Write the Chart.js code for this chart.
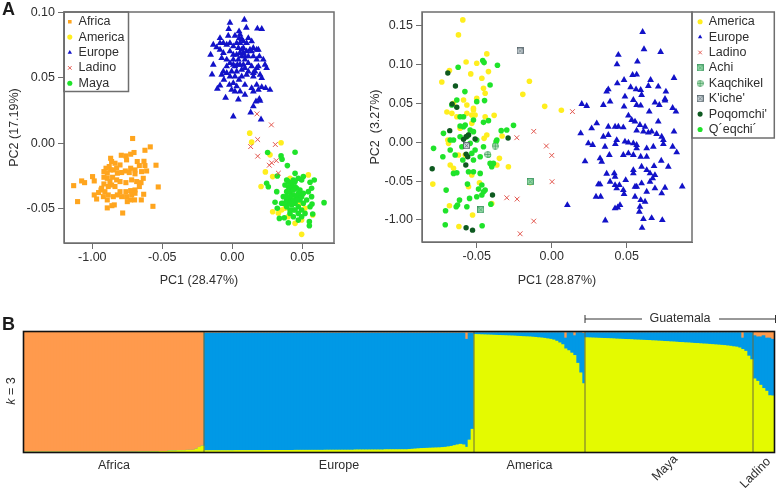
<!DOCTYPE html>
<html>
<head>
<meta charset="utf-8">
<style>
html,body{margin:0;padding:0;background:#fff;width:778px;height:490px;overflow:hidden}
canvas{position:absolute;display:block}
#a1{left:0;top:0}
#a2{left:360px;top:0}
#b{left:0;top:305px}
</style>
<script src="https://cdn.jsdelivr.net/npm/chart.js@4"></script>
</head>
<body>
<canvas id="a1" width="350" height="300"></canvas>
<canvas id="a2" width="418" height="300"></canvas>
<canvas id="b" width="778" height="185"></canvas>
<script>
// ---------- Panel A, left ----------
const leftTicksX = [-0.10, -0.05, 0, 0.05];
const leftTickLabelsX = ["-1.00", "-0.05", "0.00", "0.05"];
const leftTicksY = [-0.05, 0, 0.05, 0.10];
const leftTickLabelsY = ["-0.05", "0.00", "0.05", "0.10"];

const africaX = [-.0712,-.0586,-.0624,-.0545,-.0529,-.0567,-.065,-.0633,-.0783,-.0893,-.1105,-.1133,-.1076,-.1055,-.0998,-.0986,-.0938,-.0955,-.0986,-.0969,-.0869,-.0793,-.076,-.0726,-.0702,-.0755,-.0679,-.0631,-.0624,-.0664,-.0612,-.0648,-.0695,-.0726,-.0764,-.0802,-.0838,-.0862,-.0879,-.0902,-.0917,-.0893,-.085,-.0821,-.079,-.0736,-.0695,-.0636,-.0652,-.0664,-.0695,-.0726,-.076,-.0802,-.0838,-.0862,-.0886,-.0917,-.0933,-.091,-.0886,-.085,-.0821,-.079,-.0755,-.0719,-.0695,-.075,-.0726,-.0698,-.086,-.0843,-.0893,-.0921,-.0826,-.0855,-.0893,-.0917,-.0874,-.0802,-.076,-.0719,-.0683,-.0869,-.0826];
const africaY = [.0036,-.0028,-.0054,-.0168,-.0334,-.0482,-.0433,-.039,-.0533,-.0494,-.0446,-.0324,-.0288,-.0301,-.0255,-.0288,-.0357,-.0377,-.0395,-.0426,-.0115,-.0092,-.0097,-.0084,-.0071,-.0127,-.014,-.0138,-.0171,-.0171,-.0212,-.0217,-.0204,-.0191,-.0212,-.0166,-.0153,-.014,-.0178,-.0191,-.0217,-.0229,-.0204,-.0229,-.0224,-.0224,-.0234,-.0268,-.0301,-.0331,-.0357,-.0362,-.037,-.037,-.0331,-.0319,-.0331,-.0311,-.0344,-.037,-.0395,-.0408,-.0395,-.0408,-.0408,-.0395,-.0382,-.0446,-.0433,-.0433,-.0477,-.0471,-.0433,-.0408,-.028,-.026,-.0268,-.026,-.0293,-.0293,-.0301,-.028,-.0293,-.0204,-.0191];

const americaAX = [.0124,.0138,.0348,.0269,.0236,.0205,.0288,.0495,.0288,.0352,.0398,.0574,.0448,.0543,.0412,.0376,.0483,.0519,.0412,.0436,.0329,.0495];
const americaAY = [.0077,.0008,.0003,-.0089,-.0219,-.0331,-.0255,-.0696,-.0523,-.051,-.0561,-.0548,-.0612,-.0242,-.0268,-.0497,-.0459,-.0497,-.0331,-.0433,-.0535,-.0586];

const europeAX = [.0086,-.0017,.01,.0179,.021,-.0026,.0048,-.0088,-.0136,-.0112,-.0155,-.0136,-.0145,-.0076,.0007,.0131,.0205,.015,.0169,.0198,.0193,.0043,-.0048,-.0107,-.0088,-.006,-.0021,.0007,.0048,.009,.0138,.0174,.021,.0238,.0269,.0245,.0233,.0221,.0193,.0174,.0138,.0114,.0067,.0019,-.0029,-.0064,-.0088,-.0088,-.0076,-.004,-.004,-.0005,.0019,.0043,.0067,.009,.0114,.0138,.0174,.021,.015,.0102,.0067,.0019,-.0017,.0007,.0031,.0055,.0079,.0102,.0126,.015,.0031,.0055,.0079,.0102,.0007,-.0017,.0043,.0079,-.004,.0055,.0079,.009,.0114,.015,.0174,.0186,.0031,-.0017,-.0064,-.004,.0067,.0031,.0055,.009,.015,.0186,.0019,-.0005,.0186,-.0017,.0007,.0067,.009,.015,.0036,.0007,.0114,.0055,.005,.0138,.0162,.0198,-.0064];
const europeAY = [.0943,.092,.0882,.0875,.0872,.0872,.0854,.0803,.0752,.0732,.0676,.0599,.0525,.0523,.0204,.0235,.0181,.0281,.0319,.0324,.0339,.0334,.0347,.0416,.0441,.0485,.0446,.0459,.0485,.0446,.0421,.0446,.0428,.0421,.0408,.0574,.0599,.0638,.0663,.0714,.0778,.0803,.0796,.0821,.0821,.0765,.0765,.0714,.065,.0638,.0587,.0548,.0587,.0638,.0663,.0638,.0612,.0587,.0574,.0497,.051,.0523,.051,.051,.051,.0676,.0676,.0689,.0689,.0701,.0714,.0727,.0765,.0765,.0778,.0765,.074,.0765,.0727,.0727,.0752,.0599,.0599,.0574,.0548,.0536,.0638,.0587,.0548,.0612,.0548,.0536,.0561,.0434,.0395,.037,.0395,.0408,.0395,.0408,.0714,.0701,.0638,.0714,.0663,.0663,.0599,.0599,.0663,.0829,.0803,.0701,.0548,.0523,.0689];

const ladinoAX = [.0176,.0279,.0181,.0307,.0131,.0181,.0314,.0281,.0264,.0329];
const ladinoAY = [.0224,.014,.0028,-.001,-.0026,-.0099,-.0133,-.015,-.0168,-.0229];

const mayaX = [.0252,.0348,.0355,.0448,.0393,.0321,.0448,.0388,.0245,.0257,.0317,.0305,.0321,.0336,.0371,.04,.0436,.055,.055,.0655,.0569,.0574,.0555,.0519,.0495,.0471,.0436,.0412,.0388,.0352,.0364,.0388,.0376,.04,.0436,.0471,.0507,.0555,.0585,.0566,.0543,.0507,.0483,.0459,.0424,.0412,.0436,.0459,.0483,.0507,.0531,.0566,.0412,.0388,.0448,.0471,.0495,.0424,.0448,.0471,.0412,.0388,.0424,.0448,.0471,.0495,.04,.0436,.0364,.0388,.0436,.0412,.0495,.0448,.0412,.0464];
const mayaY = [-.0071,-.0097,-.0122,-.0069,-.0171,-.025,-.023,-.0281,-.0306,-.0332,-.037,-.0451,-.0497,-.0574,-.0569,-.0607,-.0561,-.0599,-.063,-.0454,-.0464,-.0541,-.0485,-.0536,-.0561,-.0587,-.051,-.0536,-.0485,-.0459,-.0408,-.037,-.0319,-.0293,-.0281,-.0268,-.0255,-.0298,-.0281,-.0344,-.037,-.0383,-.0357,-.0344,-.0332,-.037,-.0395,-.0408,-.0434,-.0459,-.0434,-.0408,-.0434,-.0434,-.0459,-.0485,-.051,-.0472,-.051,-.0536,-.0408,-.0408,-.0306,-.0332,-.0383,-.0408,-.0332,-.0357,-.0459,-.0459,-.0434,-.051,-.0281,-.0293,-.0459,-.0434];

// ---------- Panel A, right ----------
const rightTicksX = [-0.05, 0, 0.05];
const rightTickLabelsX = ["-0.05", "0.00", "0.05"];
const rightTicksY = [-0.10, -0.05, 0, 0.05, 0.10, 0.15];
const rightTickLabelsY = ["-1.00", "-0.05", "0.00", "0.05", "0.10", "0.15"];

const americaBX = [-.0593,-.0622,-.0682,-.0733,-.0699,-.0571,-.05,-.0433,-.0466,-.0422,-.054,-.0149,-.0193,-.0047,.0064,-.0384,-.0444,-.0522,-.0533,-.0666,-.0633,-.0566,-.0511,-.0433,-.0451,-.0331,-.0289,-.0349,-.0688,-.0622,-.0677,-.0655,-.0793,-.0682,-.0619,-.0528,-.04,-.0482,-.0555,-.0144,-.0693,-.0611,-.0533,-.0444,-.0455,-.05,-.0655,-.0588,-.0566,-.0522,-.0577,-.0366,-.0533];
const americaBY = [.1578,.1385,.0925,.0778,.0391,.1036,.1019,.114,.0826,.0912,.0882,.0787,.0619,.0464,.0413,.0348,.0331,.0439,.0353,.0374,.0331,.0374,.0353,.0095,.0052,.0082,-.0314,-.0206,-.0013,-.0163,-.0292,-.0335,-.0538,-.0817,-.1084,-.0937,-.0787,-.052,-.0572,-.052,.003,.0181,.0245,.0632,.0697,.0568,.0503,.0546,.0482,.0417,-.0163,-.0292,-.0421];

const europeBX = [.0606,.0615,.0726,.0444,.0435,.0571,.0815,.0566,.0539,.0659,.071,.0761,.0755,.0755,.0806,.0828,.0482,.0437,.0377,.0366,.0526,.0562,.0593,.0644,.0599,.0488,.0389,.0344,.0544,.0566,.0593,.0688,.0717,.0482,.02,.0233,.065,.071,.0511,.0533,.0555,.0588,.03,.0266,.0193,.0377,.0422,.0444,.0477,.0622,.0566,.0611,.0644,.0666,.0699,.0815,.0733,.0744,.0744,.0806,.0833,.0244,.0273,.0344,.0377,.0433,.0488,.0511,.0544,.0566,.0566,.0677,.0633,.0424,.0355,.0322,.0333,.0222,.0477,.0511,.0544,.0384,.0593,.0633,.073,.0777,.0682,.0599,.0544,.0633,.0655,.0544,.0366,.0417,.0422,.0688,.0673,.0655,.0599,.0566,.0493,.0451,.0422,.0389,.0311,.0322,.0295,.0326,.0433,.0482,.0555,.0633,.0688,.0733,.0755,.087,.0593,.0622,.0588,.0584,.0104,.0455,.044,.0422,.0357,.0611,.0666,.0737,.0602,.0477,.0555];
const europeBY = [.1423,.12,.1165,.1127,.1006,.1041,.083,.0873,.0869,.0804,.0718,.0654,.0559,.0538,.0443,.0396,.0804,.0761,.0684,.0654,.071,.0684,.0675,.0727,.0611,.0589,.0525,.0482,.0546,.0482,.0473,.0512,.0482,.046,.0495,.0469,.0396,.0267,.0344,.0288,.0267,.0224,.0245,.0181,.0116,.0202,.0202,.0202,.0194,.0202,.0151,.0138,.0125,.0138,.0108,.0138,.0073,.003,-.0022,-.0056,-.0129,-.0013,-.0034,.0073,.0095,.003,.0009,-.0004,-.0013,-.0034,-.0077,-.0056,-.0077,-.0022,-.0056,-.0206,-.0249,-.0245,-.0163,-.0142,-.0163,-.0163,-.0185,-.0185,-.0237,-.0314,-.0305,-.0314,-.0357,-.0357,-.04,-.04,-.0404,-.04,-.0443,-.0421,-.0464,-.0507,-.0529,-.0572,-.0486,-.055,-.055,-.0507,-.0542,-.0542,-.0701,-.0701,-.0593,-.0667,-.0572,-.0636,-.0593,-.0658,-.0585,-.0568,-.0744,-.0765,-.083,-.0894,-.0808,-.0808,-.0839,-.0851,-.1006,-.0989,-.0976,-.1002,-.1101,-.0615,-.0701];

const ladinoBX = [.0138,-.012,-.0233,-.0036,0,.0002,-.03,-.0231,-.012,-.0211];
const ladinoBY = [.0396,.0142,.006,-.0047,-.0168,-.0507,-.0714,-.0731,-.1015,-.1178];

const achiX = [-.0144,-.0473];
const achiY = [-.0507,-.0869];
const kaqchikelX = [-.0426,-.0377];
const kaqchikelY = [-.0155,-.0047];
const kicheX = [-.0211,-.0568];
const kicheY = [.1178,-.0043];

const poqomchiX = [-.0693,-.0642,-.0664,-.0633,-.068,-.0588,-.0555,-.0571,-.0511,-.0291,-.0571,-.056,-.0573,-.0797,-.0395,-.0571,-.0528];
const poqomchiY = [.0894,.0727,.0495,.0452,.0151,.0039,.0095,.0073,.0043,.0056,-.0151,-.0185,-.0292,-.034,-.0679,-.1101,-.1131];

const qeqchiX = [-.046,-.0451,-.0362,-.0624,-.0411,-.0579,-.05,-.0448,-.0633,-.0666,-.0588,-.0522,-.0455,-.0422,-.0337,-.03,-.0255,-.0371,-.0377,-.0722,-.0726,-.0788,-.0677,-.0655,-.0611,-.0588,-.0544,-.0555,-.05,-.0455,-.0422,-.0389,-.04,-.0533,-.0522,-.0555,-.0477,-.0522,-.0562,-.0488,-.0444,-.0466,-.0548,-.0615,-.0628,-.0637,-.0704,-.0708,-.071,-.0464,-.0406,-.0566,-.0455,-.0655,-.0633,-.0599,-.0544,-.0511,-.0566,-.0611,-.0677,-.0644,-.0593,-.0477,-.0411,-.0366,-.0466,-.05,-.0611,-.0577,-.0522];
const qeqchiY = [.1054,.1028,.0993,.0968,.074,.0654,.0525,.0538,.0546,.0482,.0331,.0288,.0258,.028,.0151,.0159,.0219,.0009,-.0034,.0116,-.0185,-.0077,-.0099,.003,.0211,.0202,.0159,.0095,.003,-.0056,-.0163,-.0271,-.0314,-.0142,-.0228,-.0378,-.04,-.0378,-.0538,-.0602,-.0615,-.0679,-.0722,-.0744,-.0808,-.083,-.0615,-.0882,-.1062,-.1075,-.0796,-.083,-.0636,-.04,-.0391,-.0056,-.0013,-.0099,.0073,.0073,.003,-.0163,-.0228,-.0185,-.0271,.003,-.055,-.0701,.0331,.0224,.0138];

// ---------- Panel B: share of each ancestry per individual, group by group ----------
const yellowAfrica = [0,0,0,0,0,0,0,0,0,0,0,0,0,0,0,0,0,0,0,0,0,0,0,0,0,0,0,0,0,0,0,0,0,0,0,0,0,0,.2,.2,.2,.2,.3,.3,.3,.5,.5,.5,1,1,1,1.2,1.2,1.2,1.5,1.5,1.5,2.5,4,5];
const blueAfrica = [0,0,0,0,0,0,0,0,0,0,0,0,0,0,0,0,0,0,0,0,0,0,0,0,0,0,0,0,0,0,0,0,0,0,0,0,0,0,0,0,0,0,0,0,0,0,0,0,0,0,0,0,0,0,0,0,0,0,0,0];
const orangeAfrica = [100,100,100,100,100,100,100,100,100,100,100,100,100,100,100,100,100,100,100,100,100,100,100,100,100,100,100,100,100,100,100,100,100,100,100,100,100,100,99.8,99.8,99.8,99.8,99.7,99.7,99.7,99.5,99.5,99.5,99,99,99,98.8,98.8,98.8,98.5,98.5,98.5,97.5,96,95];

const yellowEurope = [1.2,1.2,1.2,1.2,1.2,1.2,1.2,1.2,1.2,1.2,1.3,1.3,1.3,1.3,1.3,1.3,1.3,1.3,1.3,1.3,1.4,1.4,1.4,1.4,1.4,1.4,1.4,1.4,1.4,1.4,1.5,1.5,1.5,1.5,1.5,1.5,1.5,1.5,1.5,1.5,1.6,1.6,1.6,1.6,1.6,1.6,1.6,1.6,1.6,1.6,1.8,1.8,1.8,1.8,1.8,1.8,1.8,1.8,1.8,1.8,2,2,2,2,2,2,2,2,2.2,2.4,2.6,2.8,3,3.1,3.2,3.3,3.4,3.5,3.6,3.8,4,4.4,4.8,5.4,6,6.5,6,4,10,19];
const blueEurope = [98,98,98,98,98,98,98,98,98,98,97.9,97.9,97.9,97.9,97.9,97.9,97.9,97.9,97.9,97.9,97.8,97.8,97.8,97.8,97.8,97.8,97.8,97.8,97.8,97.8,97.7,97.7,97.7,97.7,97.7,97.7,97.7,97.7,97.7,97.7,97.6,97.6,97.6,97.6,97.6,97.6,97.6,97.6,97.6,97.6,97.4,97.4,97.4,97.4,97.4,97.4,97.4,97.4,97.4,97.4,97.2,97.2,97.2,97.2,97.2,97.2,97.2,97.2,97,96.8,96.6,96.4,96.2,96.1,96,95.9,95.8,95.7,95.6,95.4,95.2,94.8,94.4,93.8,93.2,92.7,93.2,90,89.2,80.2];
const orangeEurope = [.8,.8,.8,.8,.8,.8,.8,.8,.8,.8,.8,.8,.8,.8,.8,.8,.8,.8,.8,.8,.8,.8,.8,.8,.8,.8,.8,.8,.8,.8,.8,.8,.8,.8,.8,.8,.8,.8,.8,.8,.8,.8,.8,.8,.8,.8,.8,.8,.8,.8,.8,.8,.8,.8,.8,.8,.8,.8,.8,.8,.8,.8,.8,.8,.8,.8,.8,.8,.8,.8,.8,.8,.8,.8,.8,.8,.8,.8,.8,.8,.8,.8,.8,.8,.8,.8,.8,6,.8,.8];

const yellowAmerica = [98,97.9,97.8,97.7,97.6,97.5,97.4,97.3,97.2,97.1,97,96.9,96.8,96.7,96.5,96.4,96.2,96.1,96,95.8,95.6,95.3,95.1,94.8,94.4,94,93.4,92.4,91,89.5,86,84.5,82.5,80.5,74,66,57];
const blueAmerica = [1.5,1.6,1.7,1.8,1.9,2,2.1,2.2,2.3,2.4,2.5,2.6,2.7,2.8,3,3.1,3.3,3.4,3.5,3.7,3.9,4.2,4.4,4.7,5.1,5.5,6.1,7.1,8.5,10,9,15,17,16.5,25.5,33.5,42];
const orangeAmerica = [.5,.5,.5,.5,.5,.5,.5,.5,.5,.5,.5,.5,.5,.5,.5,.5,.5,.5,.5,.5,.5,.5,.5,.5,.5,.5,.5,.5,.5,.5,5,.5,.5,3,.5,.5,1];

const yellowMaya = [95.3,95.2,95.1,95,94.9,94.8,94.7,94.6,94.5,94.4,94.2,94.1,94,93.9,93.8,93.7,93.5,93.4,93.3,93.2,93.1,93,92.8,92.7,92.5,92.4,92.2,92.1,91.9,91.8,91.6,91.4,91.3,91.1,91,90.8,90.6,90.5,90.3,90.1,90,89.8,89.6,89.4,89.2,89,88.8,88.5,88.2,87.8,87.5,86.8,85.5,84,80,77];
const blueMaya = [4.2,4.3,4.4,4.5,4.6,4.7,4.8,4.9,5,5.1,5.3,5.4,5.5,5.6,5.7,5.8,6,6.1,6.2,6.3,6.4,6.5,6.7,6.8,7,7.1,7.3,7.4,7.6,7.7,7.9,8.1,8.2,8.4,8.5,8.7,8.9,9,9.2,9.4,9.5,9.7,9.9,10.1,10.3,10.5,10.7,11,11.3,11.7,12,12.7,9.5,15.5,19.5,22.5];
const orangeMaya = [.5,.5,.5,.5,.5,.5,.5,.5,.5,.5,.5,.5,.5,.5,.5,.5,.5,.5,.5,.5,.5,.5,.5,.5,.5,.5,.5,.5,.5,.5,.5,.5,.5,.5,.5,.5,.5,.5,.5,.5,.5,.5,.5,.5,.5,.5,.5,.5,.5,.5,.5,.5,5,.5,.5,.5];

const yellowLadino = [61,59,55.7,53,50.7,47,46.8];
const blueLadino = [36,37,40.3,44,44.3,48,47.2];
const orangeLadino = [3,4,4,3,5,5,6];

const groupNames = ["Africa", "Europe", "America", "Maya", "Ladino"];
const yellowShare = [...yellowAfrica, ...yellowEurope, ...yellowAmerica, ...yellowMaya, ...yellowLadino];
const blueShare = [...blueAfrica, ...blueEurope, ...blueAmerica, ...blueMaya, ...blueLadino];
const orangeShare = [...orangeAfrica, ...orangeEurope, ...orangeAmerica, ...orangeMaya, ...orangeLadino];
const groupSizes = [yellowAfrica.length, yellowEurope.length, yellowAmerica.length, yellowMaya.length, yellowLadino.length];

// ---------- styling ----------
const FONT = "'Liberation Sans', Arial, sans-serif";
const TXT = "#2e2e2e";
const FRAME = "#6e6e6e";
const C = {orange:"#FFA51E", yellow:"#FFEE1E", blue:"#1212C8", red:"#E2574F", green:"#1FE32A", dark:"#0E5A20"};
Chart.defaults.font.family = FONT;
Chart.defaults.font.size = 12.5;
Chart.defaults.color = TXT;
Chart.defaults.animation = false;

function sprite(shape, fill, line) {
  const c = document.createElement("canvas");
  c.width = 7; c.height = 7;
  const g = c.getContext("2d");
  g.fillStyle = fill; g.strokeStyle = line; g.lineWidth = 0.8;
  if (shape === "squareX") {
    g.fillRect(.5,.5,6,6); g.strokeRect(.5,.5,6,6);
    g.beginPath(); g.moveTo(1.5,1.5); g.lineTo(5.5,5.5); g.moveTo(5.5,1.5); g.lineTo(1.5,5.5); g.stroke();
  } else {
    g.beginPath(); g.arc(3.5,3.5,3,0,Math.PI*2); g.fill(); g.stroke();
    g.beginPath(); g.moveTo(3.5,.5); g.lineTo(3.5,6.5); g.moveTo(.5,3.5); g.lineTo(6.5,3.5); g.stroke();
  }
  return c;
}
const achiMark = sprite("squareX", "#9fe0b0", "#2f8f55");
const kaqMark = sprite("circlePlus", "#c4ecc9", "#3f9a5a");
const kicheMark = sprite("squareX", "#d3dbe0", "#4a5a60");

function pts(xs, ys) { return xs.map((x, i) => ({x, y: ys[i]})); }
function set(label, xs, ys, style, color, radius, order, extra) {
  return Object.assign({
    label, data: pts(xs, ys), pointStyle: style, pointRadius: radius, pointHoverRadius: radius,
    backgroundColor: color, borderColor: color, borderWidth: 0, showLine: false, order
  }, extra || {});
}

const panelPlugin = {
  id: "panel",
  afterLayout(chart) {
    const o = chart.options.plugins.panel;
    if (!o.legendAt) return;
    const L = chart.legend;
    L.left = o.legendAt[0]; L.top = o.legendAt[1];
    L.right = L.left + 100; L.bottom = L.top + 250;
  },
  afterDraw(chart) {
    const o = chart.options.plugins.panel, g = chart.ctx, a = chart.chartArea;
    g.save();
    g.strokeStyle = FRAME; g.lineWidth = 1.5;
    g.strokeRect(a.left, a.top, a.right - a.left, a.bottom - a.top);
    if (o.legendBox) { g.strokeRect(...o.legendBox); }
    if (o.letter) {
      g.fillStyle = "#1c1c1c"; g.font = "bold 18px " + FONT;
      g.textAlign = "left"; g.textBaseline = "middle";
      g.fillText(o.letter, 2, 10);
    }
    g.restore();
  }
};

function scatterChart(id, cfg) {
  const axis = (ticks, labels, min, max, title, fit) => ({
    type: "linear", min, max,
    afterBuildTicks: s => { s.ticks = ticks.map(v => ({value: v})); },
    afterFit: fit,
    grid: {drawOnChartArea: false, drawTicks: true, tickLength: 6, color: FRAME, lineWidth: 1},
    border: {color: FRAME, width: 1},
    title: {display: true, text: title.text, color: TXT, font: {size: 12.5}, padding: title.padding},
    ticks: {
      autoSkip: false, maxRotation: 0, color: TXT, font: {size: 12.5}, padding: title.tick,
      callback: (v) => { const i = ticks.findIndex(t => Math.abs(t - v) < 1e-9); return labels[i]; }
    }
  });
  return new Chart(document.getElementById(id), {
    type: "scatter",
    data: {datasets: cfg.datasets},
    plugins: [panelPlugin],
    options: {
      responsive: false,
      layout: {autoPadding: false, padding: cfg.padding},
      scales: {
        x: axis(cfg.tx, cfg.lx, cfg.xr[0], cfg.xr[1], cfg.xTitle, s => { s.height = cfg.h - cfg.bottomEdge; }),
        y: axis(cfg.ty, cfg.ly, cfg.yr[0], cfg.yr[1], cfg.yTitle, s => { s.width = cfg.padding.y; })
      },
      plugins: {
        legend: {
          display: true, position: "chartArea", align: "start",
          labels: {usePointStyle: true, boxWidth: 5, boxHeight: 3.6, padding: 2.9, color: TXT, font: {size: 12.5},
                   sort: (a, b) => a.datasetIndex - b.datasetIndex}
        },
        tooltip: {enabled: false},
        panel: {legendAt: cfg.legendAt, legendBox: cfg.legendBox, letter: cfg.letter}
      }
    }
  });
}

scatterChart("a1", {
  h: 300, bottomEdge: 243, letter: "A",
  padding: {left: 0, right: 16, top: 12, bottom: 0, y: 64},
  tx: leftTicksX, lx: leftTickLabelsX, ty: leftTicksY, ly: leftTickLabelsY,
  xr: [-.1202, .0726], yr: [-.0762, .1002],
  xTitle: {text: "PC1 (28.47%)", padding: {top: 0, bottom: 12}, tick: 1},
  yTitle: {text: "PC2 (17.19%)", padding: {top: 7, bottom: 0}, tick: 3},
  legendAt: [64.4, 12.55], legendBox: [64, 12, 64.5, 79.5],
  datasets: [
    set("Africa", africaX, africaY, "rect", C.orange, 3.6, 5),
    set("America", americaAX, americaAY, "circle", C.yellow, 2.8, 4),
    set("Europe", europeAX, europeAY, "triangle", C.blue, 3.9, 3),
    set("Ladino", ladinoAX, ladinoAY, "crossRot", C.red, 3.4, 1, {borderWidth: 1}),
    set("Maya", mayaX, mayaY, "circle", C.green, 2.8, 2)
  ]
});

scatterChart("a2", {
  h: 300, bottomEdge: 242,
  padding: {left: 0, right: 86, top: 12, bottom: 0, y: 62},
  tx: rightTicksX, lx: rightTickLabelsX, ty: rightTicksY, ly: rightTickLabelsY,
  xr: [-.0865, .0935], yr: [-.1284, .168],
  xTitle: {text: "PC1 (28.87%)", padding: {top: 0, bottom: 12}, tick: 1},
  yTitle: {text: "PC2  (3.27%)", padding: {top: 8, bottom: 0}, tick: 3},
  legendAt: [334.7, 12.55], legendBox: [332, 12, 82.3, 126],
  datasets: [
    set("America", americaBX, americaBY, "circle", C.yellow, 2.8, 8),
    set("Europe", europeBX, europeBY, "triangle", C.blue, 3.9, 7),
    set("Ladino", ladinoBX, ladinoBY, "crossRot", C.red, 3.4, 1, {borderWidth: 1}),
    set("Achi", achiX, achiY, achiMark, "#9fe0b0", 3, 2),
    set("Kaqchikel", kaqchikelX, kaqchikelY, kaqMark, "#c4ecc9", 3, 3),
    set("K'iche'", kicheX, kicheY, kicheMark, "#d3dbe0", 3, 4),
    set("Poqomchi'", poqomchiX, poqomchiY, "circle", C.dark, 2.7, 5),
    set("Q´eqchi´", qeqchiX, qeqchiY, "circle", C.green, 2.8, 6)
  ]
});

// Panel B
const barIndex = yellowShare.map((_, i) => i);
const barPlugin = {
  id: "barDecor",
  afterDraw(chart) {
    const g = chart.ctx, a = chart.chartArea, sx = chart.scales.x;
    const step = sx.getPixelForValue(1) - sx.getPixelForValue(0);
    const edge = i => sx.getPixelForValue(0) + (i - .5) * step;
    g.save();
    // separators between groups
    g.strokeStyle = "#6b6b3a"; g.lineWidth = 1;
    let start = 0;
    const centres = [];
    groupSizes.forEach((n, k) => {
      centres.push(edge(start + n / 2));
      start += n;
      if (k < groupSizes.length - 1) {
        g.beginPath(); g.moveTo(edge(start), a.top); g.lineTo(edge(start), a.bottom); g.stroke();
      }
    });
    // frame
    g.strokeStyle = "#111"; g.lineWidth = 1.6;
    g.strokeRect(a.left - .5, a.top - .5, a.right - a.left + 1, a.bottom - a.top + 1);
    // group names
    g.fillStyle = TXT; g.font = "12.5px " + FONT; g.textAlign = "center"; g.textBaseline = "middle";
    groupNames.forEach((name, k) => {
      if (k < 3) { g.fillText(name, centres[k], a.bottom + 14); }
      else {
        const dx = k === 3 ? -4 : -8, dy = k === 3 ? 16 : 21;
        g.save(); g.translate(centres[k] + dx, a.bottom + dy); g.rotate(-Math.PI / 4);
        g.fillText(name, 0, 0); g.restore();
      }
    });
    // Guatemala bracket
    const mayaStart = edge(groupSizes[0] + groupSizes[1] + groupSizes[2]);
    const y = 14;
    g.strokeStyle = "#333"; g.lineWidth = 1;
    g.beginPath();
    g.moveTo(mayaStart, y - 4); g.lineTo(mayaStart, y + 4);
    g.moveTo(mayaStart, y); g.lineTo(642, y);
    g.moveTo(719, y); g.lineTo(776, y);
    g.moveTo(775.5, y - 4); g.lineTo(775.5, y + 4);
    g.stroke();
    g.fillText("Guatemala", 680, y);
    // k = 3 with an italic k
    g.save(); g.translate(12, 86); g.rotate(-Math.PI / 2);
    g.textAlign = "left";
    g.font = "italic 12.5px " + FONT; const kw = g.measureText("k").width;
    g.font = "12.5px " + FONT; const rest = " = 3", rw = g.measureText(rest).width;
    g.font = "italic 12.5px " + FONT; g.fillText("k", -(kw + rw) / 2, 0);
    g.font = "12.5px " + FONT; g.fillText(rest, -(kw + rw) / 2 + kw, 0);
    g.restore();
    // panel letter
    g.fillStyle = "#1c1c1c"; g.font = "bold 18px " + FONT; g.textAlign = "left";
    g.fillText("B", 2, 20);
    g.restore();
  }
};

new Chart(document.getElementById("b"), {
  type: "bar",
  data: {
    labels: barIndex,
    datasets: [
      {label: "yellow", data: yellowShare, backgroundColor: "#E4FA00", stack: "k", borderWidth: 0},
      {label: "blue", data: blueShare, backgroundColor: "#0099E6", stack: "k", borderWidth: 0},
      {label: "orange", data: orangeShare, backgroundColor: "#FF9A4D", stack: "k", borderWidth: 0}
    ]
  },
  plugins: [barPlugin],
  options: {
    responsive: false,
    layout: {autoPadding: false, padding: {left: 24, right: 4, top: 27, bottom: 38}},
    datasets: {bar: {barPercentage: 1, categoryPercentage: 1}},
    scales: {
      x: {display: false, stacked: true},
      y: {display: false, stacked: true, min: 0, max: 100}
    },
    plugins: {legend: {display: false}, tooltip: {enabled: false}}
  }
});
</script>
</body>
</html>
